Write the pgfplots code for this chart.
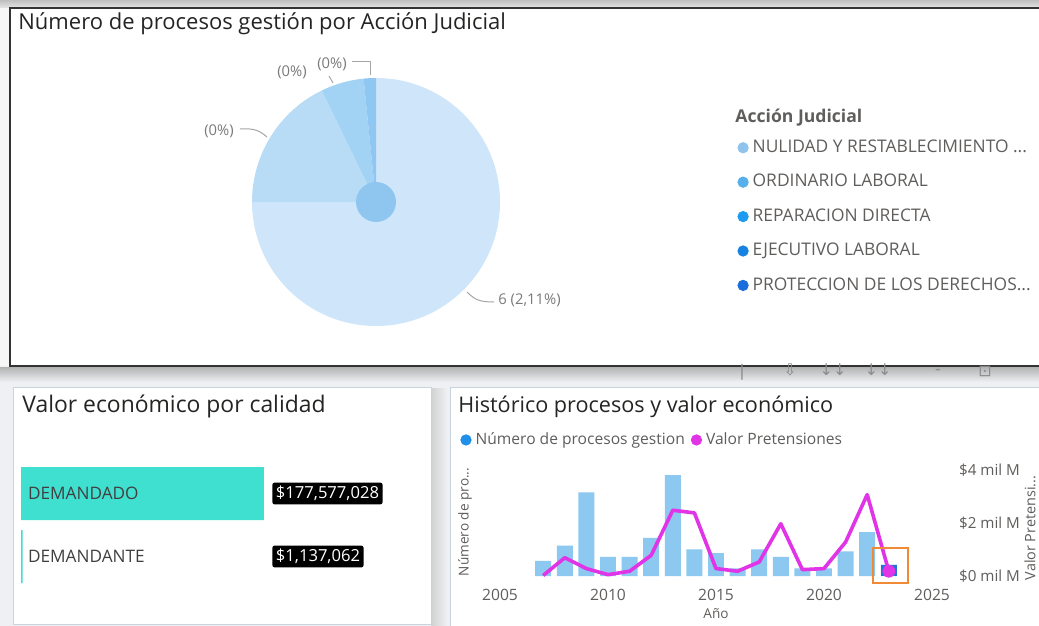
\documentclass[border=0pt]{standalone}
\usepackage{pgfplots}
\usepackage{pgfplotstable}
\pgfplotsset{compat=1.18}
\usepackage{fontspec}
\setmainfont{Open Sans}
\newfontfamily\titlefont{Open Sans}
\newfontfamily\symfont{DejaVu Sans}
\definecolor{pageBg}{HTML}{EEF0F3}
\definecolor{titleC}{HTML}{252423}
\definecolor{labelC}{HTML}{605E5C}
\definecolor{pieLab}{HTML}{7A7A7A}
\definecolor{pieA}{HTML}{CFE6FA}
\definecolor{pieB}{HTML}{B8DCF6}
\definecolor{pieC}{HTML}{A2D2F4}
\definecolor{pieD}{HTML}{8FC6F2}
\definecolor{pieHole}{HTML}{8EC6F0}
\definecolor{legA}{HTML}{8FC3EE}
\definecolor{legB}{HTML}{56AEEA}
\definecolor{legC}{HTML}{1E9BF0}
\definecolor{legD}{HTML}{1682E2}
\definecolor{legE}{HTML}{1A6EDC}
\definecolor{turq}{HTML}{40E0D0}
\definecolor{barBlue}{HTML}{8CC8F0}
\definecolor{selBlue}{HTML}{2272D5}
\definecolor{dotBlue}{HTML}{1F8FE8}
\definecolor{mag}{HTML}{E034E6}
\definecolor{hiOrange}{HTML}{F08A36}
\definecolor{panelBorder}{HTML}{C9D4DF}

\pgfplotstableread{
year count value
2007 8 0.02
2008 16 0.69
2009 44 0.28
2010 10 0.05
2011 10 0.18
2012 20 0.78
2013 53 2.48
2014 14 2.38
2015 12 0.28
2016 4 0.18
2017 14 0.53
2018 10 1.97
2019 4 0.24
2020 4 0.28
2021 13 1.28
2022 23 3.07
2023 6 0.18
}\histdata

% pie shares (percent of the circle)
\def\pA{75.0}\def\pB{17.8}\def\pC{5.6}\def\pD{1.6}

\begin{document}
\begin{tikzpicture}
\pgfmathsetmacro\aA{90-3.6*\pA}
\pgfmathsetmacro\aB{\aA-3.6*\pB}
\pgfmathsetmacro\aC{\aB-3.6*\pC}
\pgfmathsetmacro\aD{\aC-3.6*\pD}
\path[use as bounding box] (0,0) rectangle (519.5pt,-313pt);
\clip (0,0) rectangle (519.5pt,-313pt);
\begin{scope}[x=0.5pt,y=-0.5pt]
\fill[pageBg] (0,0) rectangle (1039,626);
\shade[top color=black!25, bottom color=black!10] (0,0) rectangle (1039,8);
\fill[black!3] (0,8) rectangle (10,366);
\fill[white] (10,8) rectangle (1050,366);
\draw[line width=0.75pt, black!80] (1050,8) -- (10,8) -- (10,366) -- (1050,366);
\shade[top color=black!30, bottom color=pageBg] (0,367) rectangle (1039,382);
\begin{scope}[text=black!45, font=\symfont\fontsize{8}{9}\selectfont]
\node at (742,372) {|};
\node at (790,370) {⇩};
\node at (833,370) {↓↓};
\node at (878,370) {↓↓};
\node at (938,372) {-};
\node at (985,371) {⊡};
\end{scope}
\shade[left color=black!18, right color=pageBg] (431,388) rectangle (447,626);
\fill[white] (13,387) rectangle (431,624);
\draw[panelBorder, line width=0.5pt] (13,387) rectangle (431,624);
\fill[white] (450,387) rectangle (1050,630);
\draw[panelBorder, line width=0.5pt] (450,387) rectangle (1050,630);
% titles
\node[anchor=base west, inner sep=0pt, font=\titlefont\fontsize{11}{12}\selectfont, text=titleC] at (18,30) {Número de procesos gestión por Acción Judicial};
\node[anchor=base west, inner sep=0pt, font=\titlefont\fontsize{11.45}{12}\selectfont, text=titleC] at (22,412) {Valor económico por calidad};
\node[anchor=base west, inner sep=0pt, font=\titlefont\fontsize{10.8}{12}\selectfont, text=titleC] at (458,412) {Histórico procesos y valor económico};
\node[anchor=base west, inner sep=0pt, font=\fontsize{8.8}{10}\selectfont\bfseries, text=labelC] at (735,123) {Acción Judicial};
% pie data labels and leader lines
\begin{scope}[font=\fontsize{7.4}{8}\selectfont, text=pieLab]
\node[inner sep=0pt] at (219,131) {(0\%)};
\node[inner sep=0pt] at (292,72) {(0\%)};
\node[inner sep=0pt] at (332,64) {(0\%)};
\node[anchor=west, inner sep=0pt] at (498,300) {6 (2,11\%)};
\end{scope}
\draw[black!35, line width=0.5pt] (240,129) .. controls (255,128) and (260,131) .. (267,137);
\draw[black!35, line width=0.5pt] (329,76) -- (333,83);
\draw[black!35, line width=0.5pt] (352,62) -- (370,62) -- (370,75);
\draw[black!35, line width=0.5pt] (467,292) .. controls (475,300) and (480,302) .. (494,302);
\end{scope}

% ---------- pie ----------
\begin{axis}[at={(188pt,-101pt)}, anchor=center, width=124pt, height=124pt,
  scale only axis, xmin=-1, xmax=1, ymin=-1, ymax=1, hide axis, clip=false,
  legend style={at={(axis description cs:1.956,0.768)}, anchor=north west,
    draw=none, fill=none, inner sep=0pt, row sep=5.4pt,
    font=\fontsize{8.7}{10}\selectfont, text=labelC},
  legend cell align=left,
  legend image code/.code={\fill[#1] (0pt,0pt) circle (2.6pt);}]
\fill[pieA] (axis cs:0,0) -- ++(90:62pt) arc[start angle=90, end angle=\aA, radius=62pt] -- cycle;
\fill[pieB] (axis cs:0,0) -- ++(\aA:62pt) arc[start angle=\aA, end angle=\aB, radius=62pt] -- cycle;
\fill[pieC] (axis cs:0,0) -- ++(\aB:62pt) arc[start angle=\aB, end angle=\aC, radius=62pt] -- cycle;
\fill[pieD] (axis cs:0,0) -- ++(\aC:62pt) arc[start angle=\aC, end angle=\aD, radius=62pt] -- cycle;
\fill[pieHole] (axis cs:0,0) circle[radius=10pt];
\addlegendimage{legA}\addlegendentry{NULIDAD Y RESTABLECIMIENTO ...}
\addlegendimage{legB}\addlegendentry{ORDINARIO LABORAL}
\addlegendimage{legC}\addlegendentry{REPARACION DIRECTA}
\addlegendimage{legD}\addlegendentry{EJECUTIVO LABORAL}
\addlegendimage{legE}\addlegendentry{PROTECCION DE LOS DERECHOS...}
\end{axis}

% ---------- bars by calidad ----------
\begin{axis}[at={(10.5pt,-294pt)}, anchor=south west, width=199.5pt, height=63pt,
  scale only axis, xbar, bar width=26.5pt, xmin=0, xmax=291.6, ymin=-0.5, ymax=1.5,
  axis on top,
  ytick={0,1}, yticklabels={DEMANDANTE,DEMANDADO},
  yticklabel style={anchor=west, xshift=0pt, font=\fontsize{8.6}{10}\selectfont, text=black!75},
  hide x axis, axis y line*=left, y axis line style={draw=none}, major tick length=0pt, clip=false]
\addplot[fill=turq, draw=none] coordinates {(177.577028,1) (1.137062,0)};
\node[anchor=west, fill=black, text=white, rounded corners=1.2pt, inner sep=1.8pt, font=\fontsize{8.3}{9}\selectfont] at (axis cs:183.4,1) {\$177,577,028};
\node[anchor=west, fill=black, text=white, rounded corners=1.2pt, inner sep=1.8pt, font=\fontsize{8.3}{9}\selectfont] at (axis cs:183.4,0) {\$1,137,062};
\end{axis}

% ---------- historic combo: bars ----------
\begin{axis}[at={(250pt,-288pt)}, anchor=south west, width=216pt, height=59pt,
  scale only axis, xmin=2005, xmax=2025, ymin=0, ymax=62,
  axis x line*=bottom, axis y line*=left, axis line style={draw=none}, major tick length=0pt,
  ytick=\empty, xtick={2005,2010,2015,2020,2025},
  /pgf/number format/1000 sep={}, /pgf/number format/assume math mode=true,
  xticklabel style={yshift=-3pt},
  tick label style={font=\fontsize{7.8}{9}\selectfont, text=labelC},
  xlabel={Año}, xlabel style={at={(axis description cs:0.5,-0.322)}, anchor=center, font=\fontsize{6.8}{8}\selectfont, text=labelC},
  ylabel={Número de pro...}, ylabel style={at={(axis description cs:-0.081,0.458)}, anchor=center, font=\fontsize{6.8}{8}\selectfont, text=labelC},
  clip=false]
\addplot[ybar, bar width=0.74, bar shift=0pt, fill=barBlue, draw=none] table[x=year, y=count] {\histdata};
\addplot[ybar, bar width=0.74, bar shift=0pt, fill=selBlue, draw=none] coordinates {(2023,6)};
\end{axis}

% ---------- historic combo: line ----------
\begin{axis}[at={(250pt,-288pt)}, anchor=south west, width=216pt, height=59pt,
  scale only axis, xmin=2005, xmax=2025, ymin=0, ymax=4.45,
  axis x line=none, axis y line*=right, axis line style={draw=none}, major tick length=0pt,
  ytick={0,2,4}, yticklabels={\$0 mil M,\$2 mil M,\$4 mil M},
  yticklabel style={anchor=west, xshift=10pt, font=\fontsize{7.6}{9}\selectfont, text=labelC},
  ylabel={Valor Pretensi...}, ylabel style={at={(axis description cs:1.227,0.407)}, anchor=center, font=\fontsize{7.2}{8}\selectfont, text=labelC},
  legend style={at={(axis description cs:-0.0926,1.153)}, anchor=west, draw=none, fill=none,
    inner sep=0pt, font=\fontsize{7.8}{9}\selectfont, text=labelC,
    /tikz/every even column/.append style={column sep=1pt}},
  legend columns=2,
  legend image code/.code={\fill[#1] (0pt,0pt) circle (2.6pt);},
  clip=false]
\addplot[mag, line width=1.8pt, line join=round, forget plot] table[x=year, y=value] {\histdata};
\addplot[only marks, mark=*, mark size=3pt, mag, forget plot] coordinates {(2023,0.18)};
\draw[hiOrange, line width=1pt] (axis cs:2022.27,-0.26) rectangle (axis cs:2023.89,1.06);
\addlegendimage{dotBlue}\addlegendentry{Número de procesos gestion}
\addlegendimage{mag}\addlegendentry{Valor Pretensiones}
\end{axis}
\end{tikzpicture}
\end{document}
